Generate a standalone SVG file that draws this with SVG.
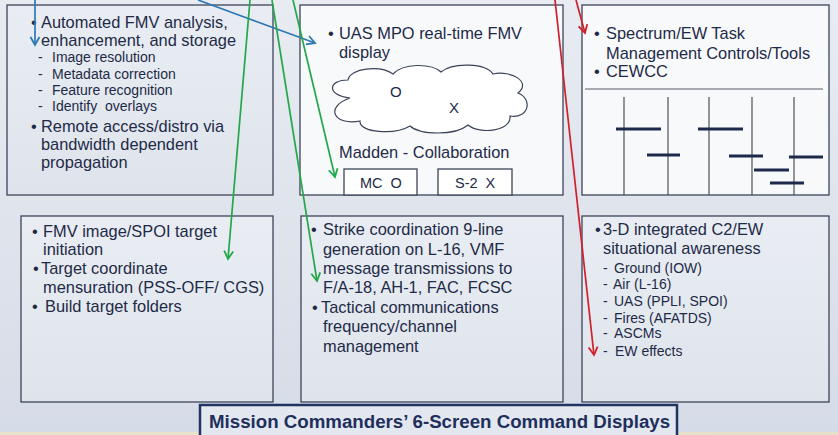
<svg xmlns="http://www.w3.org/2000/svg" width="838" height="435" viewBox="0 0 838 435">
<defs>
<linearGradient id="bg" x1="0" y1="0" x2="0" y2="1">
<stop offset="0" stop-color="#e8ecf2"/>
<stop offset="1" stop-color="#d6dce7"/>
</linearGradient>
<linearGradient id="boxg" x1="0" y1="0" x2="0" y2="1">
<stop offset="0" stop-color="#e9edf3"/>
<stop offset="1" stop-color="#dfe4ec"/>
</linearGradient>
<linearGradient id="strip" x1="0" y1="0" x2="1" y2="0">
<stop offset="0" stop-color="#e9e2cc"/>
<stop offset="1" stop-color="#e6dfc9"/>
</linearGradient>
<marker id="ab" markerUnits="userSpaceOnUse" markerWidth="12" markerHeight="12" refX="9" refY="5" orient="auto" viewBox="0 0 12 10">
<path d="M1,0.5 L9,5 L1,9.5" fill="none" stroke="#2e78b4" stroke-width="1.8"/>
</marker>
<marker id="ag" markerUnits="userSpaceOnUse" markerWidth="12" markerHeight="12" refX="9" refY="5" orient="auto" viewBox="0 0 12 10">
<path d="M1,0.5 L9,5 L1,9.5" fill="none" stroke="#22a84a" stroke-width="1.8"/>
</marker>
<marker id="ar" markerUnits="userSpaceOnUse" markerWidth="12" markerHeight="12" refX="9" refY="5" orient="auto" viewBox="0 0 12 10">
<path d="M1,0.5 L9,5 L1,9.5" fill="none" stroke="#d0202c" stroke-width="1.8"/>
</marker>
</defs>
<style>
text{font-family:"Liberation Sans",Arial,sans-serif;fill:#1e2a47}
.m{font-size:16.4px}
.s{font-size:14px}
.box{stroke:#3c4459;stroke-width:1.3}
.lt{fill:url(#boxg)}
.wh{fill:#f8f9fb}
.vl{stroke:#4a4f5c;stroke-width:1.2}
.bar{stroke:#1d2a4c;stroke-width:3}
.cb{fill:none;stroke-width:1.7}
</style>
<rect x="0" y="0" width="838" height="435" fill="url(#bg)"/>
<rect x="0" y="432" width="838" height="3" fill="url(#strip)"/>

<g id="screen-fmv-analysis">
<rect class="box lt" x="7" y="5" width="266" height="190"/>
<text class="m" x="31" y="28">•</text>
<text class="m" x="41" y="28">Automated FMV analysis,</text>
<text class="m" x="41" y="46">enhancement, and storage</text>
<text class="s" x="38" y="62">-</text><text class="s" x="52" y="62">Image resolution</text>
<text class="s" x="38" y="79">-</text><text class="s" x="52" y="79">Metadata correction</text>
<text class="s" x="38" y="95">-</text><text class="s" x="52" y="95">Feature recognition</text>
<text class="s" x="38" y="111">-</text><text class="s" x="52" y="111" xml:space="preserve">Identify  overlays</text>
<text class="m" x="31" y="132">•</text>
<text class="m" x="41" y="132">Remote access/distro via</text>
<text class="m" x="41" y="150">bandwidth dependent</text>
<text class="m" x="41" y="168">propagation</text>
</g>

<g id="screen-uas-fmv">
<rect class="box wh" x="300" y="5" width="263" height="190"/>
<text class="m" x="328" y="39">•</text>
<text class="m" x="339" y="39">UAS MPO real-time FMV</text>
<text class="m" x="339" y="58">display</text>
<path d="M350,98 C326,95 328,80 348,80 C350,68 380,65 393,74 C403,63 431,63 441,72 C453,62 486,63 493,74 C511,70 532,82 518,93 C533,99 529,119 510,116 C512,131 480,135 468,125 C455,136 420,135 410,126 C395,135 359,133 360,121 C334,126 324,107 350,98 Z" fill="#ffffff" stroke="#3c4459" stroke-width="1.2"/>
<text class="s" x="390" y="97" style="font-size:15px">O</text>
<text class="s" x="449" y="113" style="font-size:15px">X</text>
<text class="m" x="339" y="158">Madden - Collaboration</text>
<rect class="box" fill="#ffffff" x="344" y="169" width="73" height="26"/>
<rect class="box" fill="#ffffff" x="438" y="169" width="74" height="26"/>
<text class="s" x="360" y="188" xml:space="preserve" style="font-size:14.5px">MC  O</text>
<text class="s" x="455" y="188" xml:space="preserve" style="font-size:14.5px">S-2  X</text>
</g>

<g id="screen-spectrum-ew">
<rect class="box wh" x="582" y="5" width="247" height="190"/>
<text class="m" x="594" y="39">•</text>
<text class="m" x="606" y="39">Spectrum/EW Task</text>
<text class="m" x="606" y="59">Management Controls/Tools</text>
<text class="m" x="594" y="77">•</text>
<text class="m" x="606" y="77">CEWCC</text>
<line x1="585" y1="89" x2="823" y2="89" stroke="#555a66" stroke-width="1.2"/>
<line class="vl" x1="624" y1="97" x2="624" y2="195"/>
<line class="vl" x1="668" y1="97" x2="668" y2="195"/>
<line class="vl" x1="709" y1="97" x2="709" y2="195"/>
<line class="vl" x1="752" y1="97" x2="752" y2="195"/>
<line class="vl" x1="794" y1="97" x2="794" y2="195"/>
<line class="bar" x1="616" y1="129" x2="661" y2="129"/>
<line class="bar" x1="698" y1="129" x2="743" y2="129"/>
<line class="bar" x1="647" y1="155" x2="680" y2="155"/>
<line class="bar" x1="729" y1="156" x2="763" y2="156"/>
<line class="bar" x1="789" y1="157" x2="823" y2="157"/>
<line class="bar" x1="754" y1="170" x2="789" y2="170"/>
<line class="bar" x1="770" y1="183" x2="804" y2="183"/>
</g>

<g id="screen-targeting">
<rect class="box lt" x="21" y="216" width="252" height="186"/>
<text class="m" x="32" y="237">•</text>
<text class="m" x="43" y="237">FMV image/SPOI target</text>
<text class="m" x="43" y="255">initiation</text>
<text class="m" x="33" y="274">•</text>
<text class="m" x="41" y="274">Target coordinate</text>
<text class="m" x="43" y="293">mensuration (PSS-OFF/ CGS)</text>
<text class="m" x="32" y="312">•</text>
<text class="m" x="45" y="312">Build target folders</text>
</g>

<g id="screen-strike">
<rect class="box lt" x="301" y="216" width="262" height="186"/>
<text class="m" x="311" y="235">•</text>
<text class="m" x="323" y="235">Strike coordination 9-line</text>
<text class="m" x="323" y="255">generation on L-16, VMF</text>
<text class="m" x="323" y="274">message transmissions to</text>
<text class="m" x="323" y="293">F/A-18, AH-1, FAC, FCSC</text>
<text class="m" x="312" y="313">•</text>
<text class="m" x="321" y="313">Tactical communications</text>
<text class="m" x="323" y="332">frequency/channel</text>
<text class="m" x="323" y="352">management</text>
</g>

<g id="screen-c2-ew">
<rect class="box lt" x="582" y="216" width="247" height="186"/>
<text class="m" x="595" y="235">•</text>
<text class="m" x="603" y="235">3-D integrated C2/EW</text>
<text class="m" x="603" y="254">situational awareness</text>
<text class="s" x="603" y="273">-</text><text class="s" x="614" y="273">Ground (IOW)</text>
<text class="s" x="603" y="289">-</text><text class="s" x="613" y="289">Air (L-16)</text>
<text class="s" x="603" y="306">-</text><text class="s" x="614" y="306">UAS (PPLI, SPOI)</text>
<text class="s" x="603" y="323">-</text><text class="s" x="614" y="323">Fires (AFATDS)</text>
<text class="s" x="603" y="338">-</text><text class="s" x="614" y="338">ASCMs</text>
<text class="s" x="603" y="356">-</text><text class="s" x="615" y="356">EW effects</text>
</g>

<g id="title">
<rect x="200" y="405" width="477" height="40" fill="#e3e8f0" stroke="#1f3462" stroke-width="2.5"/>
<text x="209" y="428" style="font-size:18.7px;font-weight:bold;fill:#1f2f5c">Mission Commanders’ 6-Screen Command Displays</text>
</g>

<g id="connectors">
<line class="cb" x1="35" y1="0" x2="35" y2="45" stroke="#2e78b4" marker-end="url(#ab)"/>
<line class="cb" x1="198" y1="0" x2="315" y2="43" stroke="#2e78b4" marker-end="url(#ab)"/>
<line class="cb" x1="250" y1="0" x2="228" y2="259" stroke="#22a84a" marker-end="url(#ag)"/>
<line class="cb" x1="272" y1="0" x2="317" y2="281" stroke="#22a84a" marker-end="url(#ag)"/>
<line class="cb" x1="293" y1="0" x2="335" y2="177" stroke="#22a84a" marker-end="url(#ag)"/>
<line class="cb" x1="555" y1="0" x2="594" y2="355" stroke="#d0202c" marker-end="url(#ar)"/>
<line class="cb" x1="576" y1="0" x2="585" y2="33" stroke="#d0202c" marker-end="url(#ar)"/>
</g>
</svg>
